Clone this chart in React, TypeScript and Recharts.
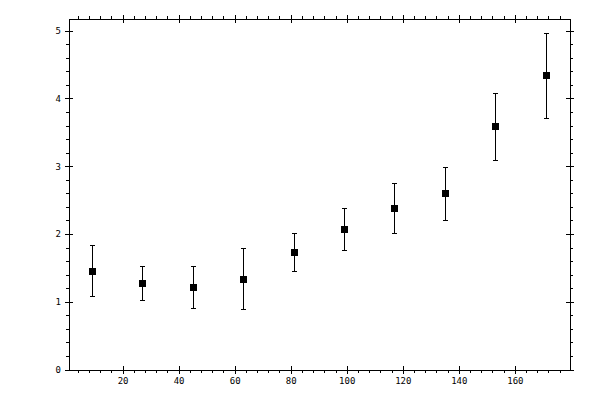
import { ScatterChart, Scatter, XAxis, YAxis, ErrorBar } from "recharts";

// bin centres and measured values (with lower / upper error bounds)
const xValues = [9, 27, 45, 63, 81, 99, 117, 135, 153, 171];
const means = [1.46, 1.28, 1.22, 1.34, 1.73, 2.07, 2.38, 2.6, 3.59, 4.34];
const lows = [1.09, 1.02, 0.91, 0.9, 1.45, 1.76, 2.01, 2.2, 3.09, 3.71];
const highs = [1.83, 1.53, 1.53, 1.79, 2.01, 2.38, 2.75, 2.99, 4.08, 4.97];

// ticks: minor + labelled
const xTicks = [
  4, 8, 12, 16, 20, 24, 28, 32, 36, 40, 44, 48, 52, 56, 60, 64, 68, 72, 76, 80,
  84, 88, 92, 96, 100, 104, 108, 112, 116, 120, 124, 128, 132, 136, 140, 144,
  148, 152, 156, 160, 164, 168, 172, 176,
];
const xLabels = [20, 40, 60, 80, 100, 120, 140, 160];
const yTicks = [
  0, 0.2, 0.4, 0.6, 0.8, 1, 1.2, 1.4, 1.6, 1.8, 2, 2.2, 2.4, 2.6, 2.8, 3, 3.2,
  3.4, 3.6, 3.8, 4, 4.2, 4.4, 4.6, 4.8, 5,
];
const yLabels = [0, 1, 2, 3, 4, 5];

const data = xValues.map((x, i) => ({
  x,
  y: means[i],
  err: [means[i] - lows[i], highs[i] - means[i]],
}));

const FONT = "'DejaVu Sans Mono', monospace";

const AxisTick = (props: any) => {
  const { x, y, payload, side } = props;
  const v = payload.value;
  const horiz = side === "top" || side === "bottom";
  const major = horiz
    ? xLabels.includes(v)
    : yLabels.some((l) => Math.abs(l - v) < 1e-6);
  const inner = major ? 4 : 0;
  const outer = major ? 4 : 3;
  let line;
  if (side === "bottom") line = <line x1={x} x2={x} y1={y - inner} y2={y + outer} stroke="#000" />;
  else if (side === "top") line = <line x1={x} x2={x} y1={y + inner} y2={y - outer} stroke="#000" />;
  else if (side === "left") line = <line x1={x + inner} x2={x - outer} y1={y} y2={y} stroke="#000" />;
  else line = <line x1={x - inner} x2={x + outer} y1={y} y2={y} stroke="#000" />;
  let label = null;
  if (major && side === "bottom")
    label = (
      <text x={x} y={y + 14} textAnchor="middle" fontSize={9} fontFamily={FONT} fill="#000">
        {v}
      </text>
    );
  if (major && side === "left")
    label = (
      <text x={x - 8} y={y + 3} textAnchor="end" fontSize={9} fontFamily={FONT} fill="#000">
        {Math.round(v)}
      </text>
    );
  return (
    <g>
      {line}
      {label}
    </g>
  );
};

const Square = (props: any) => {
  const { cx, cy } = props;
  return <rect x={cx - 3.5} y={cy - 3.5} width={7} height={7} fill="#000" />;
};

const App = () => {
  return (
    <div style={{ position: "absolute", left: 0, top: 0, width: 600, height: 400, background: "#fff" }}>
      <ScatterChart
        width={600}
        height={400}
        margin={{ top: 0, right: 0, bottom: 0, left: 0 }}
        style={{ shapeRendering: "crispEdges" }}
      >
        <XAxis
          xAxisId="b"
          dataKey="x"
          type="number"
          orientation="bottom"
          domain={[0.7, 179.5]}
          allowDataOverflow
          ticks={xTicks}
          interval={0}
          height={30}
          tickSize={0}
          tickMargin={0}
          tickLine={false}
          axisLine={{ stroke: "#000" }}
          tick={(p: any) => <AxisTick {...p} side="bottom" />}
        />
        <XAxis
          xAxisId="t"
          dataKey="x"
          type="number"
          orientation="top"
          domain={[0.7, 179.5]}
          allowDataOverflow
          ticks={xTicks}
          interval={0}
          height={19}
          tickSize={0}
          tickMargin={0}
          tickLine={false}
          axisLine={{ stroke: "#000" }}
          tick={(p: any) => <AxisTick {...p} side="top" />}
        />
        <YAxis
          yAxisId="l"
          dataKey="y"
          type="number"
          orientation="left"
          domain={[0, 5.18]}
          allowDataOverflow
          ticks={yTicks}
          interval={0}
          width={69}
          tickSize={0}
          tickMargin={0}
          tickLine={false}
          axisLine={{ stroke: "#000" }}
          tick={(p: any) => <AxisTick {...p} side="left" />}
        />
        <YAxis
          yAxisId="r"
          dataKey="y"
          type="number"
          orientation="right"
          domain={[0, 5.18]}
          allowDataOverflow
          ticks={yTicks}
          interval={0}
          width={30}
          tickSize={0}
          tickMargin={0}
          tickLine={false}
          axisLine={{ stroke: "#000" }}
          tick={(p: any) => <AxisTick {...p} side="right" />}
        />
        <Scatter
          data={data}
          xAxisId="b"
          yAxisId="l"
          shape={Square}
          isAnimationActive={false}
        >
          <ErrorBar dataKey="err" direction="y" width={2.5} stroke="#000" strokeWidth={1} />
        </Scatter>
        <Scatter data={data} xAxisId="t" yAxisId="r" shape={() => null} isAnimationActive={false} />
      </ScatterChart>
    </div>
  );
};

export default App;
